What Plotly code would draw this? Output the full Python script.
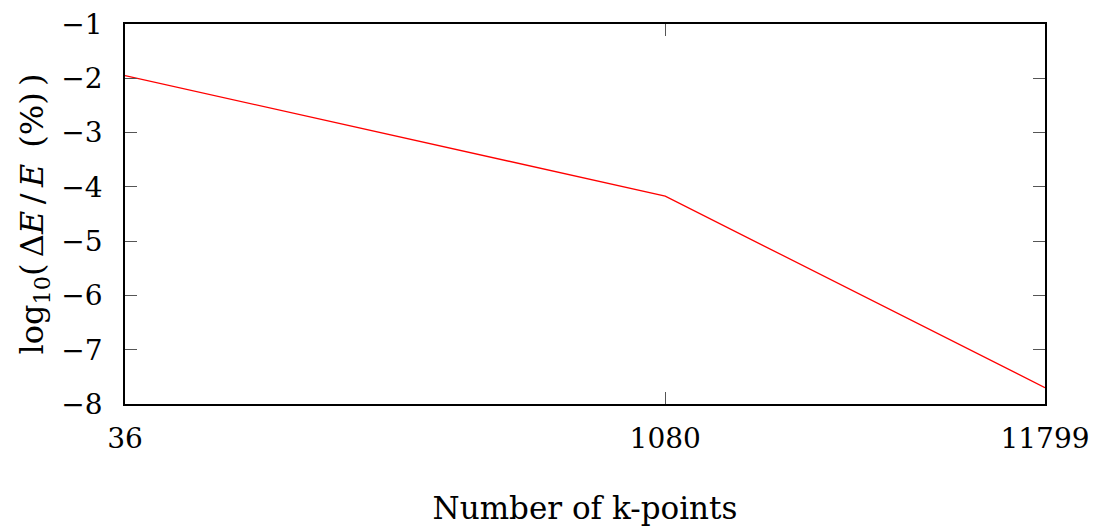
import math
import plotly.graph_objects as go

kpoints = [36, 1080, 11799]
log_err = [-1.95, -4.17, -7.70]
y_ticks = [-1, -2, -3, -4, -5, -6, -7, -8]
y_ticktext = ["\u2212" + str(-v) for v in y_ticks]
x_ticktext = ["36", "1080", "11799"]

FONT = "DejaVu Serif"

fig = go.Figure()
fig.add_trace(go.Scatter(x=kpoints, y=log_err, mode="lines",
                         line=dict(color="red", width=1.3), showlegend=False))

fig.update_layout(
    width=1095, height=522,
    margin=dict(l=117, r=58, t=16, b=126),
    plot_bgcolor="white", paper_bgcolor="white",
    font=dict(family=FONT, size=28, color="black"),
)
fig.update_xaxes(
    type="log", range=[math.log10(36), math.log10(11799)],
    tickvals=kpoints, ticktext=x_ticktext,
    ticks="inside", ticklen=12, tickcolor="#555", tickwidth=1,
    showgrid=False, zeroline=False, automargin=False,
    showline=True, linecolor="black", linewidth=1.5, mirror="allticks",
    ticklabelstandoff=9, ticklabeloverflow="allow",
    title=dict(text="Number of k-points", font=dict(family=FONT, size=31), standoff=43),
)
fig.update_yaxes(
    range=[-8, -1], tickvals=y_ticks, ticktext=y_ticktext,
    ticks="inside", ticklen=12, tickcolor="#555", tickwidth=1,
    showgrid=False, zeroline=False, automargin=False,
    showline=True, linecolor="black", linewidth=1.5, mirror="allticks",
    ticklabelstandoff=15, ticklabeloverflow="allow",
    title=dict(text="log<sub>10</sub>(\u2009\u0394<i>E</i>\u2009/\u2009<i>E</i>\u2002(%)\u2009)",
               font=dict(family=FONT, size=32), standoff=8),
)

fig.write_html("out.html")
